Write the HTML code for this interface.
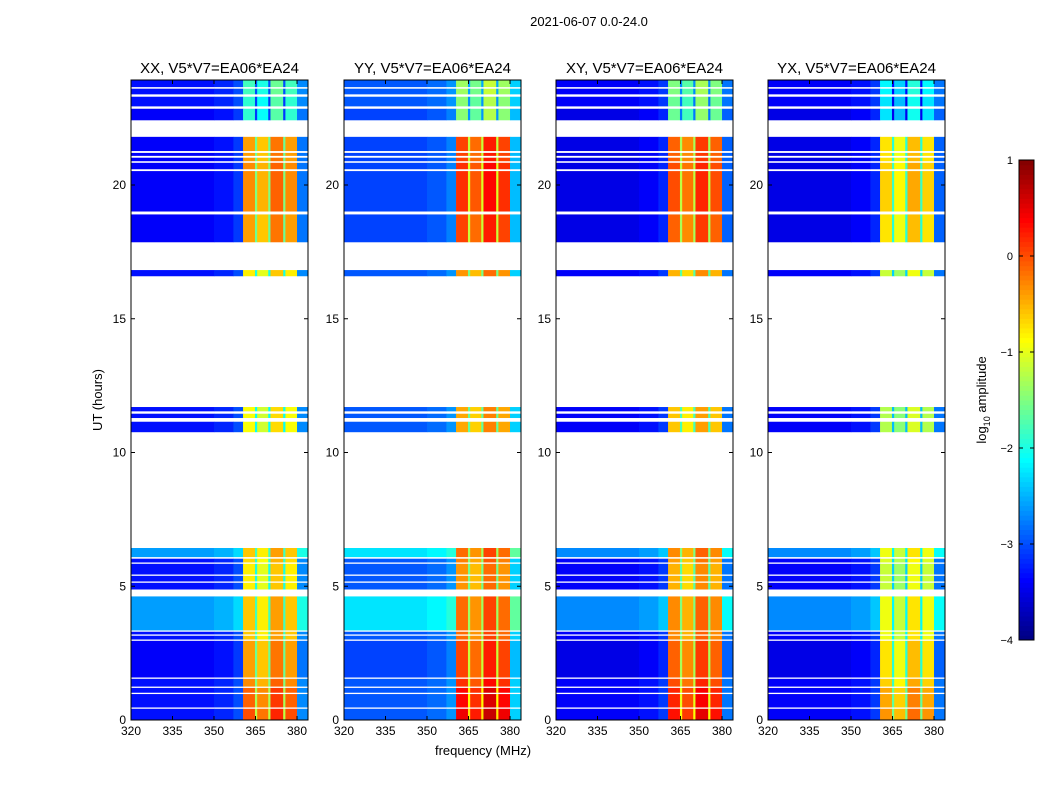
<!DOCTYPE html>
<html><head><meta charset="utf-8"><style>
body{margin:0;background:#fff;}
svg text{font-family:"Liberation Sans",sans-serif;}
</style></head><body>
<svg id="fig" width="1050" height="800" xmlns="http://www.w3.org/2000/svg">
<rect width="1050" height="800" fill="#fff"/>
<text x="589" y="26" font-size="13" text-anchor="middle">2021-06-07 0.0-24.0</text>
<text transform="translate(102,400) rotate(-90)" font-size="13" text-anchor="middle">UT (hours)</text>
<text x="483" y="755" font-size="13" text-anchor="middle">frequency (MHz)</text>
<g id="panels"></g>
<g id="cbar"></g>
</svg>
<script>
const pols = ["XX","YY","XY","YX"];
const panelLeft = [131,344,556,768];
const lowOffset = [0, 0.35, -0.1, -0.1];
const highOffset = [0, 0.45, 0.3, -0.35];
const segStart = [23.67,23.4,22.95,22.43,21.28,21.1,20.9,20.6,19.02,18.25,17.87,16.6,11.55,11.3,10.77,6.1,5.9,5.45,5.19,4.89,3.36,3.21,3.02,1.6,1.26,1.03,0.48,0];
const segEnd   = [23.93,23.6,23.3,22.85,21.8,21.2,21.02,20.83,20.52,18.32,18.9,16.82,11.7,11.45,11.15,6.43,6.03,5.84,5.39,5.13,4.62,3.3,3.15,2.96,1.54,1.2,0.97,0.42];
const segLow   = [-3.3,-3.3,-3.3,-3.4,-3.4,-3.4,-3.4,-3.4,-3.4,-1.5,-3.4,-3.3,-3.3,-3.3,-3.3,-2.6,-3.3,-3.3,-3.3,-3.3,-2.6,-3.3,-3.3,-3.4,-3.3,-3.3,-3.3,-3.3];
const segHigh  = [-1.8,-1.8,-1.9,-1.9,-0.4,-0.4,-0.4,-0.3,-0.3,-0.8,-0.4,-0.8,-0.9,-0.9,-0.9,-0.6,-0.7,-0.8,-0.8,-0.8,-0.6,-0.6,-0.6,-0.4,-0.3,-0.1,-0.1,0];
const bandStart = [320,350,357,360.5,364.8,365.6,369.6,370.4,375,375.8,380];
const bandEnd   = [350,357,360.5,364.8,365.6,369.6,370.4,375,375.8,380,384];
const bandKind  = [0,0,0,1,1,1,1,1,1,1,0];
const bandOff   = [0,0.1,0.3,0,-1.2,-0.2,-1.2,0.2,-1.2,0,0.6];
const yTicks = [0,5,10,15,20];
const xTicks = [320,335,350,365,380];
const cTicks = [-4,-3,-2,-1,0,1];

const NS="http://www.w3.org/2000/svg";
const pTop=80, pBot=720, pw=177;
const yS = h => 720 - h*26.75;
const xS = (m,L) => L + (m-320)*2.767;
function jet(v){let t=(v+4)/5;t=Math.max(0,Math.min(1,t));
 const c=x=>Math.round(255*Math.max(0,Math.min(1,1.5-Math.abs(x))));
 return `rgb(${c(4*t-3)},${c(4*t-2)},${c(4*t-1)})`;}
function mk(tag,attrs,parent){const e=document.createElementNS(NS,tag);for(const k in attrs)e.setAttribute(k,attrs[k]);parent.appendChild(e);return e;}
const panels=document.getElementById('panels');
pols.forEach((p,pi)=>{
 const L=panelLeft[pi];
 const g=mk('g',{},panels);
 
 
 for(let s=0;s<segStart.length;s++){
  for(let b=0;b<bandStart.length;b++){
   const lvl=(bandKind[b]?segHigh[s]+highOffset[pi]:segLow[s]+lowOffset[pi])+bandOff[b];
   const x0=xS(bandStart[b],L),x1=Math.min(xS(bandEnd[b],L),L+pw);
   const y0=yS(segEnd[s]),y1=yS(segStart[s]);
   const r=mk('rect',{x:x0,y:y0,width:x1-x0+0.3,height:y1-y0+0.3,fill:jet(lvl)},g);
   
   
  }
 }
 const fr=mk('rect',{x:L,y:pTop,width:pw,height:pBot-pTop,fill:'none',stroke:'#000','stroke-width':1},g);
 
 
 const t=mk('text',{x:L+pw/2,y:73,'font-size':15,'text-anchor':'middle'},g);
 t.textContent=p+', V5*V7=EA06*EA24';
 
 
 yTicks.forEach(v=>{const y=yS(v);
  mk('line',{x1:L,x2:L+4,y1:y,y2:y,stroke:'#000'},g);
  mk('line',{x1:L+pw-4,x2:L+pw,y1:y,y2:y,stroke:'#000'},g);
  const tx=mk('text',{x:L-5,y:y+4,'font-size':12,'text-anchor':'end'},g);tx.textContent=v;
  
  
 });
 xTicks.forEach(v=>{const x=xS(v,L);
  mk('line',{x1:x,x2:x,y1:pBot,y2:pBot-4,stroke:'#000'},g);
  mk('line',{x1:x,x2:x,y1:pTop,y2:pTop+4,stroke:'#000'},g);
  const tx=mk('text',{x:x,y:pBot+15,'font-size':12,'text-anchor':'middle'},g);tx.textContent=v;
  
  
 });
});
const cb=document.getElementById('cbar');


const cT=160,cB=640,cL=1019,cW=15;
const cy=v=>cB-(v+4)/5*(cB-cT);
for(let i=0;i<100;i++){const v=-4+5*i/100;
 mk('rect',{x:cL,y:cy(v+0.05),width:cW,height:(cB-cT)/100+0.5,fill:jet(v+0.025)},cb);}
mk('rect',{x:cL,y:cT,width:cW,height:cB-cT,fill:'none',stroke:'#000'},cb);
cTicks.forEach(v=>{const y=cy(v);
 mk('line',{x1:cL,x2:cL+4,y1:y,y2:y,stroke:'#000'},cb);
 mk('line',{x1:cL+cW-4,x2:cL+cW,y1:y,y2:y,stroke:'#000'},cb);
 const tx=mk('text',{x:1013,y:y+4,'font-size':11,'text-anchor':'end'},cb);
 tx.textContent=(v<0?'\u2212'+(-v):v);
 
 
});
const cl=mk('text',{transform:'translate(986,400) rotate(-90)','font-size':13,'text-anchor':'middle'},cb);
cl.innerHTML='log<tspan font-size="9" dy="4">10</tspan><tspan dy="-4"> amplitude</tspan>';


</script>
</body></html>
